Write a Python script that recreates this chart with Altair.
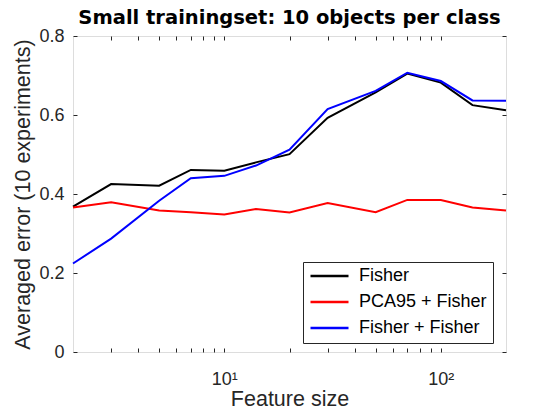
import altair as alt
import pandas as pd

# ---- data ----
feature_size = [2, 3, 5, 7, 10, 14, 20, 30, 50, 70, 100, 140, 200]
fisher = [0.368, 0.425, 0.421, 0.461, 0.459, 0.480, 0.501, 0.593, 0.657, 0.705, 0.682, 0.625, 0.612]
pca95_fisher = [0.366, 0.379, 0.358, 0.354, 0.348, 0.362, 0.353, 0.377, 0.354, 0.385, 0.385, 0.366, 0.358]
fisher_fisher = [0.224, 0.287, 0.383, 0.440, 0.446, 0.472, 0.512, 0.615, 0.661, 0.707, 0.686, 0.637, 0.636]

series_names = ["Fisher", "PCA95 + Fisher", "Fisher + Fisher"]
series_colors = ["#000000", "#ff0000", "#0000ff"]

x_label_values = [10, 100]
x_tick_values = [3, 4, 5, 6, 7, 8, 9, 10, 20, 30, 40, 50, 60, 70, 80, 90, 100]
y_tick_values = [0, 0.2, 0.4, 0.6, 0.8]

rows = []
for name, vals in zip(series_names, [fisher, pca95_fisher, fisher_fisher]):
    for xv, yv in zip(feature_size, vals):
        rows.append({"size": xv, "error": yv, "series": name})
df = pd.DataFrame(rows)

AX = "#262626"
FONT = "Liberation Sans"
W, H = 433, 316
TICK = 4

xscale = alt.Scale(type="log", domain=[2, 200], nice=False)
yscale = alt.Scale(domain=[0, 0.8], nice=False)

base = alt.Chart(df)

lines = base.mark_line(strokeWidth=2).encode(
    x=alt.X(
        "size:Q", scale=xscale,
        axis=alt.Axis(
            orient="bottom", values=x_label_values,
            labelExpr="datum.value == 10 ? '10¹' : '10²'",
            ticks=False, tickSize=0, domain=False, grid=False,
            title="Feature size", labelFont=FONT, labelFontSize=18,
            labelColor=AX, labelPadding=18, titleFont=FONT,
            titleFontSize=21.5, titleFontWeight="normal", titleColor=AX,
            titlePadding=0,
        ),
    ),
    y=alt.Y(
        "error:Q", scale=yscale,
        axis=alt.Axis(
            orient="left", values=y_tick_values, format=".1~f",
            ticks=False, tickSize=0, domain=False, grid=False,
            title="Averaged error (10 experiments)", labelFont=FONT,
            labelFontSize=18, labelColor=AX, labelPadding=9,
            titleFont=FONT, titleFontSize=21.5, titleFontWeight="normal",
            titleColor=AX, titlePadding=4,
        ),
    ),
    color=alt.Color(
        "series:N",
        scale=alt.Scale(domain=series_names, range=series_colors),
        legend=alt.Legend(
            orient="none", legendX=230, legendY=226, title=None,
            symbolType="stroke", symbolSize=1444, symbolStrokeWidth=2.5,
            clipHeight=16, rowPadding=8, labelFont=FONT, labelFontSize=18,
            labelColor="#000000", labelOffset=9, strokeColor=AX,
            fillColor="#ffffff", padding=6,
        ),
    ),
    order=alt.Order("size:Q"),
)


def tick_axis(orient, values):
    return alt.Axis(
        orient=orient, values=values, labels=False, ticks=True,
        tickSize=TICK, offset=-TICK, domain=False, grid=False,
        title=None, tickColor=AX, tickWidth=1,
    )


ticks_bl = base.mark_point(opacity=0).encode(
    x=alt.X("size:Q", scale=xscale, axis=tick_axis("bottom", x_tick_values)),
    y=alt.Y("error:Q", scale=yscale, axis=tick_axis("left", y_tick_values)),
)
ticks_tr = base.mark_point(opacity=0).encode(
    x=alt.X("size:Q", scale=xscale, axis=tick_axis("top", x_tick_values)),
    y=alt.Y("error:Q", scale=yscale, axis=tick_axis("right", y_tick_values)),
)

chart = (
    alt.layer(lines, ticks_bl, ticks_tr)
    .resolve_axis(x="independent", y="independent")
    .properties(
        width=W, height=H,
        title=alt.Title(
            "Small trainingset: 10 objects per class", font="DejaVu Sans",
            fontSize=19.5, fontWeight="bold", color="#000000",
            anchor="middle", frame="group", baseline="alphabetic", offset=-16,
        ),
        autosize=alt.AutoSizeParams(type="none"),
        padding={"left": 65, "top": 28, "right": 40, "bottom": 65},
    )
    .configure_view(stroke=AX, strokeWidth=1)
    .configure(background="#ffffff")
)

chart.save("out.html", embed_options={"renderer": "svg", "actions": False})
